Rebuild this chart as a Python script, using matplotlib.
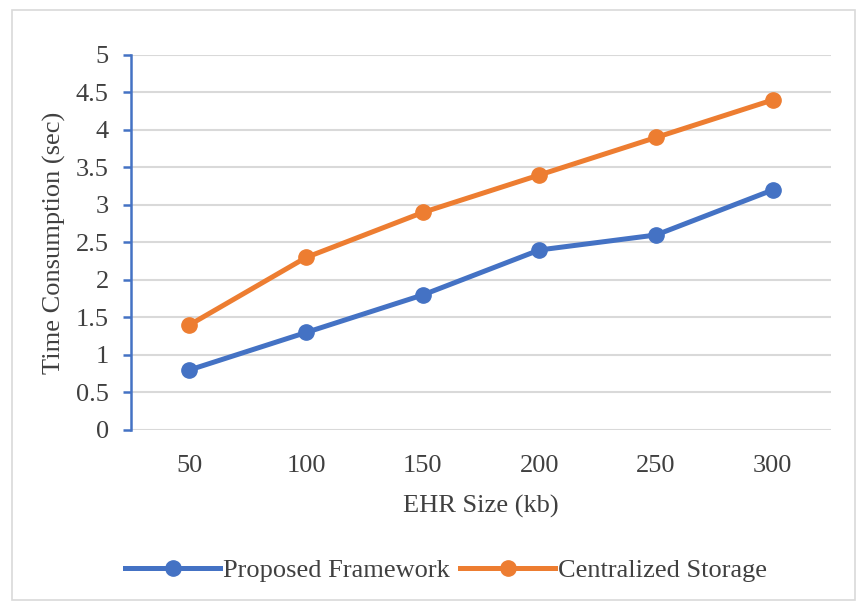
import matplotlib
matplotlib.use("Agg")
import matplotlib.pyplot as plt
import numpy as np
from matplotlib.patches import Rectangle

sizes = ["50", "100", "150", "200", "250", "300"]
proposed = [0.8, 1.3, 1.8, 2.4, 2.6, 3.2]
centralized = [1.4, 2.3, 2.9, 3.4, 3.9, 4.4]
yticks = [0, 0.5, 1, 1.5, 2, 2.5, 3, 3.5, 4, 4.5, 5]

plt.rcParams["font.family"] = ["Liberation Serif", "DejaVu Serif"]
FS = 19

fig = plt.figure(figsize=(8.58, 6.07), dpi=100)
ax = fig.add_axes([0.1527, 0.2916, 0.8158, 0.6178])

# outer chart border
fig.patches.append(Rectangle((0.014, 0.012), 0.982, 0.972, transform=fig.transFigure,
                             fill=False, edgecolor="#d9d9d9", linewidth=1.2))

x = np.arange(len(sizes))
ax.plot(x, proposed, color="#4472c4", lw=3.6, marker="o", ms=11,
        label="Proposed Framework", zorder=3)
ax.plot(x, centralized, color="#ed7d31", lw=3.6, marker="o", ms=11,
        label="Centralized Storage", zorder=3)

ax.set_xlim(-0.5, len(sizes) - 0.5)
ax.set_ylim(0, 5)
ax.set_yticks(yticks)
ax.set_yticklabels([f"{v:g}" for v in yticks], fontsize=FS, color="#404040")
ax.set_xticks(x)
ax.set_xticklabels(sizes, fontsize=FS, color="#404040")
ax.grid(True, axis="y", color="#d9d9d9", lw=1.5)
ax.set_axisbelow(True)

for s in ["top", "right", "bottom"]:
    ax.spines[s].set_visible(False)
ax.spines["left"].set_color("#4472c4")
ax.spines["left"].set_linewidth(1.8)
ax.tick_params(axis="y", direction="out", length=6, width=1.8, color="#4472c4", pad=10)
ax.tick_params(axis="x", length=0, pad=18)

ax.set_xlabel("EHR Size (kb)", fontsize=FS, color="#404040", labelpad=13)
ax.set_ylabel("Time Consumption (sec)", fontsize=FS, color="#404040", labelpad=7)

ax.legend(loc="center", bbox_to_anchor=(0.45, -0.375), ncol=2, frameon=False,
          fontsize=FS, handlelength=3.6, columnspacing=0.4, handletextpad=0.1,
          labelcolor="#404040")

fig.savefig("out.png", dpi=100)
